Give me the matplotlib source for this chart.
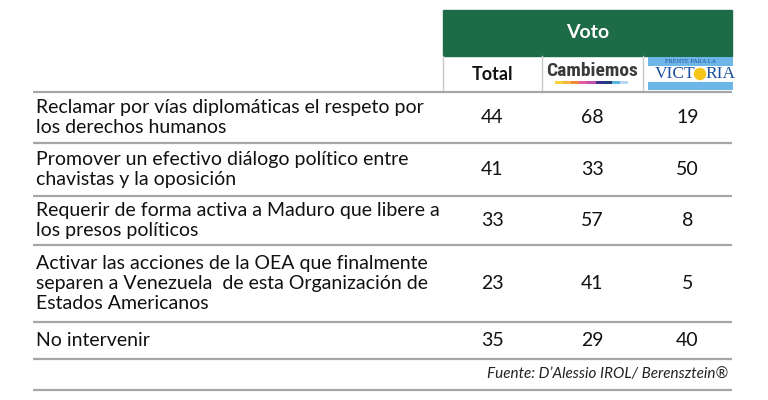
import matplotlib
matplotlib.use("Agg")
import matplotlib.pyplot as plt
from matplotlib.patches import Rectangle, Circle
from matplotlib import font_manager

# ---- data ----
statements = [
    "Reclamar por vías diplomáticas el respeto por\nlos derechos humanos",
    "Promover un efectivo diálogo político entre\nchavistas y la oposición",
    "Requerir de forma activa a Maduro que libere a\nlos presos políticos",
    "Activar las acciones de la OEA que finalmente\nseparen a Venezuela  de esta Organización de\nEstados Americanos",
    "No intervenir",
]
total = [44, 41, 33, 23, 35]
cambiemos = [68, 33, 57, 41, 29]
victoria = [19, 50, 8, 5, 40]
header_title = "Voto"
col_labels = ["Total", "Cambiemos", "VICTORIA"]
source = "Fuente: D\u2019Alessio IROL/ Berensztein\u00ae"

# ---- layout (pixel space) ----
W, H = 768, 400
fig = plt.figure(figsize=(W / 100, H / 100), dpi=100)
ax = fig.add_axes([0, 0, 1, 1])
ax.set_xlim(0, W)
ax.set_ylim(H, 0)
ax.axis("off")

# pick a condensed font for the "Cambiemos" logo if one is available
fl = font_manager.fontManager.ttflist
narrow_kw = None
for cand in ["Roboto Condensed", "Liberation Sans Narrow", "Open Sans Condensed"]:
    if any(f.name == cand for f in fl):
        narrow_kw = dict(family=cand, fontsize=14)
        break
if narrow_kw is None and any(f.name == "DejaVu Sans" and f.stretch == "condensed" for f in fl):
    narrow_kw = dict(family="DejaVu Sans", fontstretch="condensed", fontsize=12.5)
if narrow_kw is None:
    narrow_kw = dict(family="Roboto", fontsize=12.5)

FONT = "Lato"
green = "#1d6b47"
line_c = "#a6a6a6"

x_left, x_right = 33, 732
x_hdr = 443
col_edges = [443, 542, 643, 732]
col_centers = [(col_edges[i] + col_edges[i + 1]) / 2 for i in range(3)]
row_lines = [92, 143, 196, 245, 322, 359]
footer_line = 390

# green header
ax.add_patch(Rectangle((x_hdr, 10), x_right - x_hdr, 46, color=green, zorder=1))
ax.text((x_hdr + x_right) / 2, 33, header_title, color="white", fontsize=14,
        fontweight="bold", ha="center", va="center", family=FONT)

# sub-header vertical separators
for x in col_edges[:-1]:
    ax.plot([x, x], [56, 92], color="#c8c8c8", lw=1, zorder=2)

# Total
ax.text(col_centers[0], 75, col_labels[0], fontsize=13, fontweight="bold",
        ha="center", va="center", family=FONT, color="#111111")

# Cambiemos logo
ax.text(col_centers[1], 71, col_labels[1], ha="center", va="center",
        fontweight="bold", color="#3a3a3a", **narrow_kw)
bar_cols = ["#f6d23a", "#f4b63a", "#ee8a3c", "#e45a9c", "#c04fae", "#3a2f8c",
            "#1f3d7a", "#5ab4e0", "#b7d8ef"]
bx0, bx1 = 555, 628
bw = (bx1 - bx0) / len(bar_cols)
for i, c in enumerate(bar_cols):
    ax.add_patch(Rectangle((bx0 + i * bw, 81), bw, 3, color=c, lw=0, zorder=2))

# Victoria logo
vx0, vx1 = 648, 733
ax.add_patch(Rectangle((vx0, 57), vx1 - vx0, 9, color="#6cb6e8", lw=0, zorder=2))
ax.add_patch(Rectangle((vx0, 82), vx1 - vx0, 8, color="#6cb6e8", lw=0, zorder=2))
ax.text((vx0 + vx1) / 2, 61.5, "FRENTE PARA LA", fontsize=4.5, ha="center",
        va="center", family="Liberation Serif", color="#1f4fa0", zorder=3)
ax.text(695, 74.5, col_labels[2][:4], fontsize=12.5, ha="right",
        va="center", family="Liberation Serif", color="#1b4f9c", zorder=3)
ax.text(705, 74.5, col_labels[2][5:], fontsize=12.5, ha="left",
        va="center", family="Liberation Serif", color="#1b4f9c", zorder=3)
ax.add_patch(Circle((700, 74), 5.5, color="#f5c518", zorder=4))

# horizontal lines
for y in row_lines + [footer_line]:
    ax.plot([x_left, x_right], [y, y], color=line_c, lw=1.6, zorder=2,
            solid_capstyle="butt")

# rows
for i, stmt in enumerate(statements):
    y0, y1 = row_lines[i], (row_lines[i + 1] if i + 1 < len(row_lines) else footer_line)
    yc = (y0 + y1) / 2
    if i == len(statements) - 1:
        yc = (row_lines[i] + row_lines[i] + 37) / 2
    ax.text(36, yc, stmt, fontsize=14, ha="left", va="center", family=FONT,
            color="#111111", linespacing=1.22)
    for j, vals in enumerate([total, cambiemos, victoria]):
        ax.text(col_centers[j], yc, str(vals[i]), fontsize=14, ha="center",
                va="center", family=FONT, color="#111111")

ax.text(728, 374, source, fontsize=11, ha="right", va="center", family=FONT,
        style="italic", color="#222222")

fig.savefig("out.png", dpi=100)
